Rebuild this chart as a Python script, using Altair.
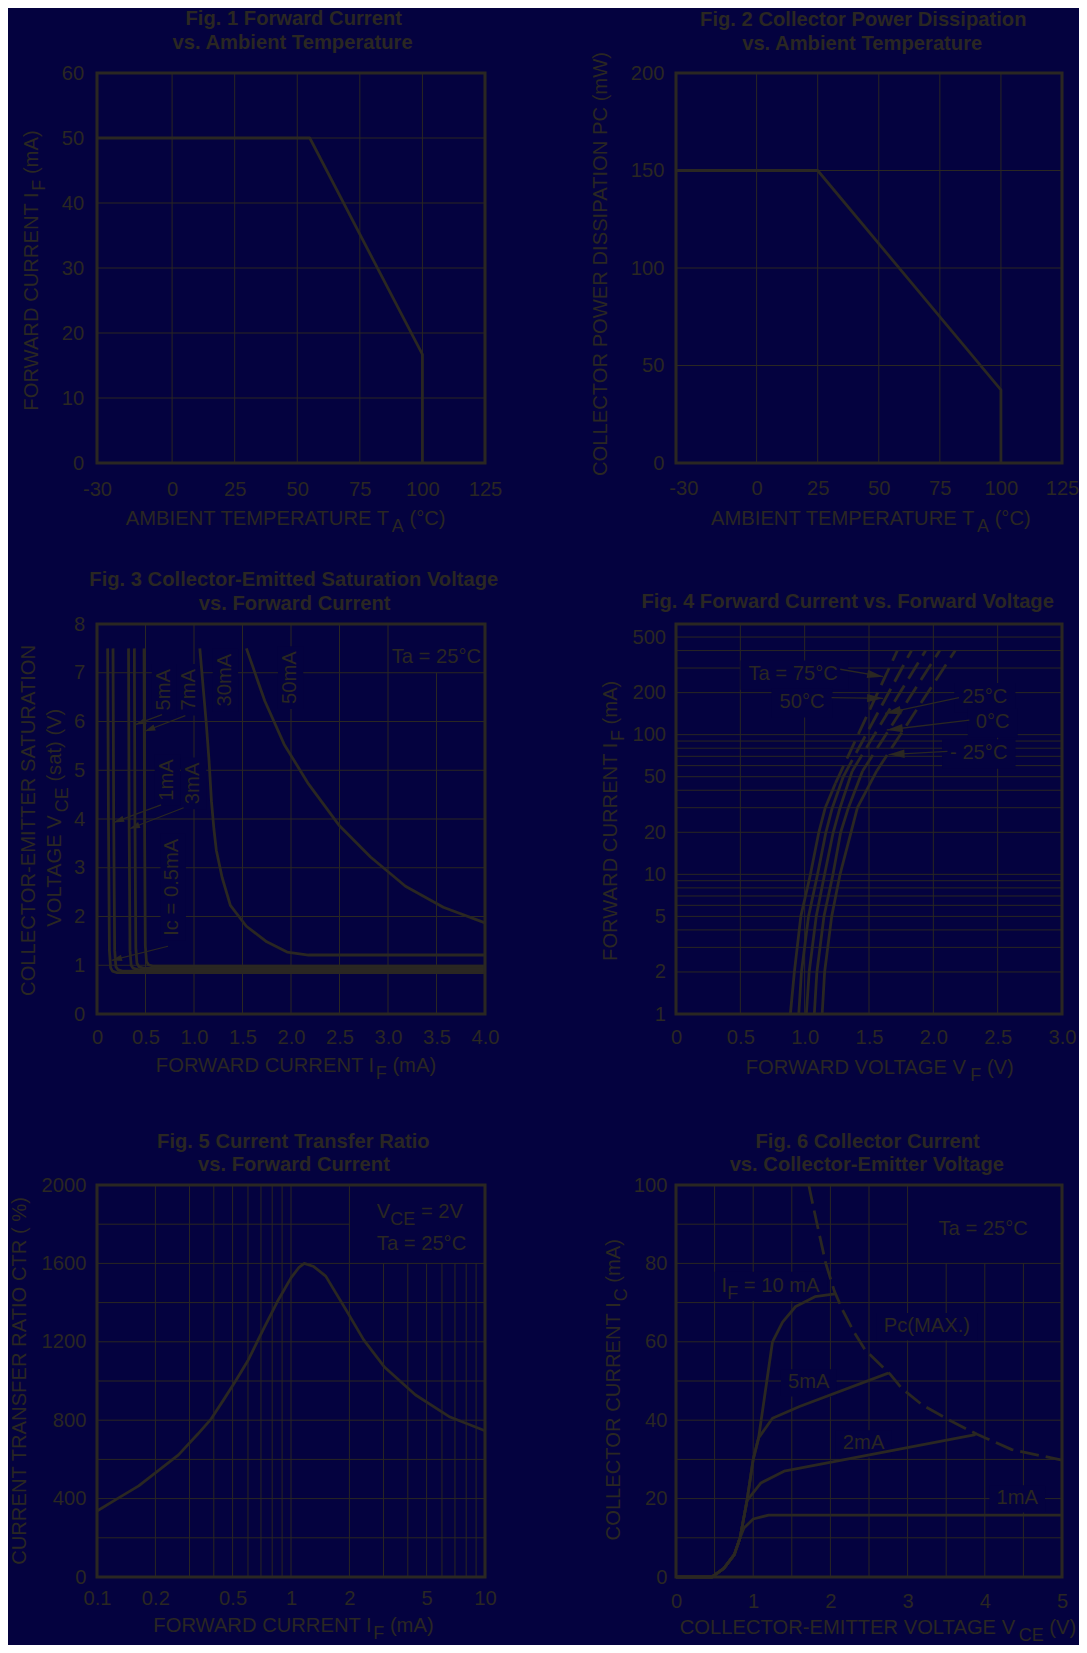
import math
import altair as alt
import pandas as pd

BG = "#04023f"
INK = "#2a2722"
FONT = "Liberation Sans"
FS = 20.2
SUB_FS = 18
SUB_DY = 7

# ---------------- Fig 1 ----------------
f1_temp = [-30, 55, 100, 100]
f1_if = [50, 50, 16.7, 0]
f1_xticks = [-30, 0, 25, 50, 75, 100, 125]
f1_yticks = [0, 10, 20, 30, 40, 50, 60]
f1_vgrid = [0, 25, 50, 75, 100]
f1_hgrid = [10, 20, 30, 40, 50]

# ---------------- Fig 2 ----------------
f2_temp = [-33, 25, 100, 100]
f2_pc = [150, 150, 37.5, 0]
f2_xticks = [-30, 0, 25, 50, 75, 100, 125]
f2_yticks = [0, 50, 100, 150, 200]
f2_vgrid = [0, 25, 50, 75, 100]
f2_hgrid = [50, 100, 150]

# ---------------- Fig 3 ----------------
f3_05_if = [0.110, 0.118, 0.128, 0.140, 0.160, 0.200, 4.0]
f3_05_v = [7.5, 4.0, 1.30, 0.95, 0.88, 0.85, 0.85]
f3_1_if = [0.165, 0.172, 0.182, 0.195, 0.215, 0.260, 4.0]
f3_1_v = [7.5, 4.0, 1.30, 0.97, 0.91, 0.88, 0.88]
f3_3_if = [0.325, 0.331, 0.340, 0.352, 0.372, 0.420, 4.0]
f3_3_v = [7.5, 4.0, 1.30, 1.00, 0.94, 0.91, 0.91]
f3_5_if = [0.385, 0.391, 0.400, 0.412, 0.432, 0.480, 4.0]
f3_5_v = [7.5, 4.0, 1.35, 1.04, 0.97, 0.94, 0.94]
f3_7_if = [0.485, 0.490, 0.498, 0.510, 0.530, 0.580, 4.0]
f3_7_v = [7.5, 4.0, 1.40, 1.08, 1.01, 0.98, 0.98]
f3_30_if = [1.06, 1.09, 1.125, 1.155, 1.18, 1.205, 1.23, 1.29, 1.375, 1.54, 1.75, 1.96, 2.18, 4.0]
f3_30_v = [7.5, 6.8, 6.0, 5.2, 4.36, 3.8, 3.36, 2.8, 2.23, 1.8, 1.48, 1.27, 1.21, 1.21]
f3_50_if = [1.54, 1.73, 1.93, 2.18, 2.5, 2.82, 3.18, 3.57, 4.0]
f3_50_v = [7.5, 6.42, 5.53, 4.72, 3.86, 3.22, 2.62, 2.19, 1.87]
f3_xticks = [0, 0.5, 1.0, 1.5, 2.0, 2.5, 3.0, 3.5, 4.0]
f3_yticks = [0, 1, 2, 3, 4, 5, 6, 7, 8]
f3_vgrid = [0.5, 1.0, 1.5, 2.0, 2.5, 3.0]
f3_vgrid_short = [3.5]
f3_hgrid = [1, 2, 3, 4, 5, 6, 7]
f3_rot_text = ["5mA", "7mA", "30mA", "50mA", "1mA", "3mA", "Ic = 0.5mA"]
f3_rot_x = [0.75, 1.007, 1.378, 2.05, 0.78, 1.05, 0.84]
f3_rot_y = [6.65, 6.65, 6.85, 6.9, 4.8, 4.73, 2.6]
f3_arr_x1 = [0.671, 0.911, 0.661, 0.893, 0.732]
f3_arr_y1 = [6.14, 6.12, 4.29, 4.23, 1.39]
f3_arr_x2 = [0.40, 0.493, 0.172, 0.335, 0.15]
f3_arr_y2 = [5.94, 5.80, 3.93, 3.80, 1.10]

# ---------------- Fig 4 ----------------
f4_75_vs = [0.889, 0.92, 0.97, 1.045, 1.11, 1.16, 1.24]
f4_75_is = [1, 2, 5, 10, 20, 30, 45]
f4_75_vd = [1.24, 1.72]
f4_75_id = [45, 400]
f4_50_vs = [0.954, 0.975, 1.03, 1.10, 1.165, 1.215, 1.30]
f4_50_is = [1, 2, 5, 10, 20, 30, 50]
f4_50_vd = [1.30, 1.83]
f4_50_id = [50, 400]
f4_25_vs = [1.013, 1.035, 1.09, 1.155, 1.222, 1.275, 1.37]
f4_25_is = [1, 2, 5, 10, 20, 30, 55]
f4_25_vd = [1.37, 1.94]
f4_25_id = [55, 400]
f4_0_vs = [1.075, 1.095, 1.15, 1.22, 1.28, 1.34, 1.45]
f4_0_is = [1, 2, 5, 10, 20, 30, 55]
f4_0_vd = [1.45, 2.05]
f4_0_id = [55, 400]
f4_m25_vs = [1.136, 1.155, 1.21, 1.275, 1.36, 1.41, 1.56]
f4_m25_is = [1, 2, 5, 10, 20, 30, 55]
f4_m25_vd = [1.56, 2.17]
f4_m25_id = [55, 400]
f4_xticks = [0, 0.5, 1.0, 1.5, 2.0, 2.5, 3.0]
f4_yticks = [1, 2, 5, 10, 20, 50, 100, 200, 500]
f4_vgrid = [0.5, 1.0, 1.5, 2.0, 2.5]
f4_hgrid = [2, 3, 4, 5, 6, 7, 8, 9, 10, 20, 30, 40, 50, 60, 70, 80, 90, 100, 200, 300, 400, 500]
f4_lab_text = ["Ta = 75°C", "50°C", "25°C", "0°C", "- 25°C"]
f4_lab_v = [0.563, 0.804, 2.225, 2.33, 2.13]
f4_lab_i = [245, 155, 169, 111, 66.7]
f4_arr_v1 = [1.276, 1.209, 2.20, 2.28, 2.11]
f4_arr_i1 = [294, 184, 184, 127, 76]
f4_arr_v2 = [1.61, 1.61, 1.625, 1.638, 1.652]
f4_arr_i2 = [260, 182, 142, 108, 72]

# ---------------- Fig 5 ----------------
f5_if = [0.1, 0.13, 0.164, 0.2, 0.263, 0.33, 0.388, 0.45, 0.518, 0.598, 0.72, 0.85,
         1.0, 1.1, 1.17, 1.31, 1.51, 1.93, 2.37, 3.04, 4.37, 6.6, 10]
f5_ctr = [337, 405, 465, 531, 623, 728, 807, 905, 1000, 1102, 1263, 1404,
          1526, 1580, 1600, 1584, 1535, 1360, 1210, 1070, 930, 816, 746]
f5_xticks = [0.1, 0.2, 0.5, 1, 2, 5, 10]
f5_yticks = [0, 400, 800, 1200, 1600, 2000]
f5_vgrid = [0.2, 0.3, 0.4, 0.5, 0.6, 0.7, 0.8, 0.9, 1, 2]
f5_vgrid_short = [3, 4, 5, 6, 7, 8, 9]
f5_hgrid = [200, 400, 600, 800, 1000, 1200, 1400, 1600]
f5_hgrid_short = [1800]

# ---------------- Fig 6 ----------------
f6_1_v = [0, 0.465, 0.62, 0.755, 0.83, 0.88, 1.0, 1.2, 5.0]
f6_1_i = [0, 0, 2.2, 5.7, 10, 12.5, 14.8, 15.8, 15.8]
f6_2_v = [0, 0.465, 0.62, 0.755, 0.83, 0.92, 1.1, 1.4, 3.88]
f6_2_i = [0, 0, 2.2, 5.7, 10, 19.5, 24, 27, 36.3]
f6_5_v = [0, 0.465, 0.62, 0.755, 0.83, 0.92, 1.0, 1.07, 1.25, 1.6, 2.75]
f6_5_i = [0, 0, 2.2, 5.7, 10, 19.5, 30, 35.5, 40.5, 43.5, 52]
f6_10_v = [0, 0.465, 0.62, 0.755, 0.83, 0.92, 1.0, 1.07, 1.25, 1.38, 1.55, 1.8, 2.06]
f6_10_i = [0, 0, 2.2, 5.7, 10, 19.5, 30, 35.5, 60, 65, 69, 71.5, 72.2]
f6_pc_v = [1.72, 1.74, 1.85, 1.94, 2.05, 2.16, 2.3, 2.45, 2.77, 2.92, 3.19, 3.55, 3.9, 4.35, 5.0]
f6_pc_i = [100, 98, 88, 80, 73, 68, 62.7, 57.9, 51.8, 48.2, 43.9, 39.9, 36.4, 32.5, 29.8]
f6_xticks = [0, 1, 2, 3, 4, 5]
f6_yticks = [0, 20, 40, 60, 80, 100]
f6_vgrid = [0.5, 1.0, 1.5, 2.0, 2.5, 3.0]
f6_vgrid_short = [3.5, 4.0, 4.5]
f6_hgrid = [10, 20, 30, 40, 50, 60, 70, 80]
f6_hgrid_short = [90]
f6_lab_text = ["Pc(MAX.)", "5mA", "2mA", "1mA"]
f6_lab_v = [3.25, 1.72, 2.43, 4.42]
f6_lab_i = [62.5, 48.2, 32.6, 18.6]

# ---------------- text metrics (Arial / Liberation Sans) ----------------
REG = {}
for ch, w in zip("ABCDEFGHIJKLMNOPQRSTUVWXYZ",
                 [667, 667, 722, 722, 667, 611, 778, 722, 278, 500, 667, 556, 833, 722, 778, 667, 778,
                  722, 667, 611, 722, 667, 944, 667, 667, 611]):
    REG[ch] = w
for ch, w in zip("abcdefghijklmnopqrstuvwxyz",
                 [556, 556, 500, 556, 556, 278, 556, 556, 222, 222, 500, 222, 833, 556, 556, 556, 556,
                  333, 500, 278, 556, 500, 722, 500, 500, 500]):
    REG[ch] = w
REG.update({" ": 278, "(": 333, ")": 333, "%": 889, "-": 333, ".": 278, "=": 584, "°": 400, ",": 278})
for d in "0123456789":
    REG[d] = 556
BOLD = {}
for ch, w in zip("ABCDEFGHIJKLMNOPQRSTUVWXYZ",
                 [722, 722, 722, 722, 667, 611, 778, 722, 278, 556, 722, 611, 833, 722, 778, 667, 778,
                  722, 667, 611, 722, 667, 944, 667, 667, 611]):
    BOLD[ch] = w
for ch, w in zip("abcdefghijklmnopqrstuvwxyz",
                 [556, 611, 556, 611, 556, 333, 611, 611, 278, 278, 556, 278, 889, 611, 611, 611, 611,
                  389, 556, 333, 611, 556, 778, 556, 556, 500]):
    BOLD[ch] = w
BOLD.update({" ": 278, "(": 333, ")": 333, "-": 333, ".": 278})
for d in "0123456789":
    BOLD[d] = 556


def tw(s, size, bold=False):
    tab = BOLD if bold else REG
    return sum(tab.get(c, 556) for c in s) * size / 1000.0


def one():
    return pd.DataFrame({"k": [0]})


def ax(**kw):
    return alt.Axis(title=None, **kw)


class P:
    """Holds the scales and the vertical offset of one panel."""

    def __init__(self, W, H, xs, ys, xa, ya, d=0):
        self.W, self.H, self.d = W, H, d
        self.xs, self.ys, self.xa, self.ya = xs, ys, xa, ya

    def X(self, f="x"):
        return alt.X(f + ":Q", scale=self.xs, axis=self.xa)

    def Y(self, f="y"):
        return alt.Y(f + ":Q", scale=self.ys, axis=self.ya)


def vrules(p, vals, y0=None, y1=None):
    if y0 is None:
        enc = dict(x=p.X())
        if p.d:
            enc.update(y=alt.value(p.d), y2=alt.value(p.H + p.d))
        return alt.Chart(pd.DataFrame({"x": vals})).mark_rule(color=INK, strokeWidth=1).encode(**enc)
    df = pd.DataFrame({"x": vals, "y": [y0] * len(vals), "y2": [y1] * len(vals)})
    return alt.Chart(df).mark_rule(color=INK, strokeWidth=1).encode(x=p.X(), y=p.Y(), y2=alt.Y2("y2"))


def hrules(p, vals, x0=None, x1=None):
    if x0 is None:
        return alt.Chart(pd.DataFrame({"y": vals})).mark_rule(color=INK, strokeWidth=1).encode(y=p.Y())
    df = pd.DataFrame({"y": vals, "x": [x0] * len(vals), "x2": [x1] * len(vals)})
    return alt.Chart(df).mark_rule(color=INK, strokeWidth=1).encode(y=p.Y(), x=p.X(), x2=alt.X2("x2"))


def curves(p, series, dash=None, sw=2.8):
    rows = []
    for name, xv, yv in series:
        for i, (a, b) in enumerate(zip(xv, yv)):
            rows.append({"s": name, "i": i, "x": a, "y": b})
    kw = dict(color=INK, strokeWidth=sw, strokeJoin="round")
    if dash:
        kw["strokeDash"] = dash
    return alt.Chart(pd.DataFrame(rows)).mark_line(**kw).encode(
        x=p.X(), y=p.Y(), detail="s:N", order=alt.Order("i:Q"))


def labels(p, xv, yv, texts, align="left", angle=0):
    df = pd.DataFrame({"x": xv, "y": yv, "t": texts})
    return alt.Chart(df).mark_text(align=align, baseline="alphabetic", angle=angle, font=FONT,
                                   fontSize=FS, color=INK).encode(x=p.X(), y=p.Y(), text="t:N")


def ko_path(text, align, angle, mx=6, my=4):
    w = tw(text, FS)
    if align == "left":
        x1, x2 = -mx, w + mx
    elif align == "center":
        x1, x2 = -w / 2 - mx, w / 2 + mx
    else:
        x1, x2 = -w - mx, mx
    y1, y2 = -0.74 * FS - my, 0.22 * FS + my
    if angle == 270:
        sx1, sx2, sy1, sy2 = y1, y2, -x2, -x1
    else:
        sx1, sx2, sy1, sy2 = x1, x2, y1, y2
    return "M%.1f,%.1fH%.1fV%.1fH%.1fZ" % (sx1, sy1, sx2, sy2, sx1)


def knock(p, xv, yv, texts, align, angle=0, mx=6, my=4):
    df = pd.DataFrame({"x": xv, "y": yv, "p": [ko_path(t, align, angle, mx, my) for t in texts]})
    return alt.Chart(df).mark_point(filled=True, size=4, opacity=1, color=BG, strokeWidth=0).encode(
        x=p.X(), y=p.Y(), shape=alt.Shape("p:N", scale=None))


def arrows(p, x1, y1, x2, y2, pxf, pyf, head, sw=1.2):
    angs = []
    for a, b, c, e in zip(x1, y1, x2, y2):
        angs.append(math.degrees(math.atan2(pyf(e) - pyf(b), pxf(c) - pxf(a))) % 360)
    df = pd.DataFrame({"x": x1, "y": y1, "x2": x2, "y2": y2, "a": angs, "h": [head] * len(x1)})
    ln = alt.Chart(df).mark_rule(color=INK, strokeWidth=sw).encode(
        x=p.X(), y=p.Y(), x2=alt.X2("x2"), y2=alt.Y2("y2"))
    hd = alt.Chart(df).mark_point(filled=True, size=4, opacity=1, color=INK, strokeWidth=0).encode(
        x=p.X("x2"), y=p.Y("y2"), shape=alt.Shape("h:N", scale=None), angle=alt.Angle("a:Q", scale=None))
    return [ln, hd]


def rich(segs, enc, df, align="center", angle=0, bold=False, size=FS, sub_size=SUB_FS):
    widths = [tw(t, sub_size if s else size, bold) for t, s in segs]
    total = sum(widths)
    off = {"left": 0.0, "center": -total / 2.0, "right": -total}[align]
    out = []
    for (t, s), w in zip(segs, widths):
        fs = sub_size if s else size
        lead = len(t) - len(t.lstrip(" "))
        body = t.strip(" ")
        dx = off + tw(" " * lead, fs, bold)
        out.append(alt.Chart(df).mark_text(
            text=body, align="left", baseline="alphabetic", dx=dx, dy=SUB_DY if s else 0,
            angle=angle, font=FONT, fontSize=fs, fontWeight="bold" if bold else "normal",
            color=INK).encode(**enc))
        off += w
    return out


def rich_px(p, segs, x, y, **kw):
    return rich(segs, dict(x=alt.value(x), y=alt.value(y + p.d)), one(), **kw)


def rich_dt(p, segs, xv, yv, **kw):
    return rich(segs, dict(x=p.X(), y=p.Y()), pd.DataFrame({"x": [xv], "y": [yv]}), **kw)


def title(p, lines, cx, bys):
    out = []
    for line, by in zip(lines, bys):
        out += rich_px(p, [(line, False)], cx, by, bold=True)
    return out


def frame(p):
    return alt.Chart(one()).mark_rect(filled=False, color=INK, strokeWidth=3.1).encode(
        x=alt.value(0), x2=alt.value(p.W), y=alt.value(p.d), y2=alt.value(p.H + p.d))


def lin(domain, H=None, d=0):
    if H is None:
        return alt.Scale(domain=domain, nice=False, zero=False)
    return alt.Scale(domain=domain, nice=False, zero=False, range=[H + d, d])


NEG = "datum.value < 0 ? '-' + format(-datum.value, 'd') : datum.label"
DEC = "datum.value == 0 ? '0' : format(datum.value, '.1f')"

# ---------------- layout ----------------
W1, W2 = 388, 386
H12, H3 = 390, 392
D3 = 10


def panel1():
    p = P(W1, H12, lin([-30, 125]), lin([0, 60]),
          ax(values=f1_xticks, labelExpr=NEG, labelPadding=16.8),
          ax(values=f1_yticks, labelPadding=13.2))
    L = [vrules(p, f1_vgrid), hrules(p, f1_hgrid), curves(p, [("a", f1_temp, f1_if)]), frame(p)]
    L += title(p, ["Fig. 1 Forward Current", "vs. Ambient Temperature"], 196.8, [-48.3, -24.4])
    L += rich_px(p, [("AMBIENT TEMPERATURE T", False), ("A", True), (" (°C)", False)], 188.7, p.H + 61.6)
    L += rich_px(p, [("FORWARD CURRENT I", False), ("F", True), (" (mA)", False)], -58.9, 197.5, angle=270)
    return alt.layer(*L).properties(width=p.W, height=p.H)


def panel2():
    p = P(W2, H12, lin([-33, 125]), lin([0, 200]),
          ax(values=f2_xticks, labelExpr=NEG, labelPadding=15.2),
          ax(values=f2_yticks, labelPadding=12.1))
    L = [vrules(p, f2_vgrid), hrules(p, f2_hgrid), curves(p, [("a", f2_temp, f2_pc)]), frame(p)]
    L += title(p, ["Fig. 2 Collector Power Dissipation", "vs. Ambient Temperature"], 187.4, [-47.2, -22.9])
    L += rich_px(p, [("AMBIENT TEMPERATURE T", False), ("A", True), (" (°C)", False)], 194.9, p.H + 61.8)
    L += rich_px(p, [("COLLECTOR POWER DISSIPATION PC (mW)", False)], -69.4, 189.2, angle=270)
    return alt.layer(*L).properties(width=p.W, height=p.H)


def panel3():
    xd, yd = [0, 4], [0, 8]
    p = P(W1, H12, lin(xd), lin(yd),
          ax(values=f3_xticks, labelExpr=DEC, labelPadding=13),
          ax(values=f3_yticks, labelPadding=12.2))
    pxf = lambda v: (v - xd[0]) / (xd[1] - xd[0]) * p.W
    pyf = lambda v: p.H - (v - yd[0]) / (yd[1] - yd[0]) * p.H
    L = [vrules(p, f3_vgrid), vrules(p, f3_vgrid_short, 0, 7), hrules(p, f3_hgrid),
         knock(p, f3_rot_x, f3_rot_y, f3_rot_text, "center", 270, mx=5, my=3),
         curves(p, [("0.5", f3_05_if, f3_05_v), ("1", f3_1_if, f3_1_v), ("3", f3_3_if, f3_3_v),
                    ("5", f3_5_if, f3_5_v), ("7", f3_7_if, f3_7_v), ("30", f3_30_if, f3_30_v),
                    ("50", f3_50_if, f3_50_v)])]
    L += arrows(p, f3_arr_x1, f3_arr_y1, f3_arr_x2, f3_arr_y2, pxf, pyf, "M0,0L-10.5,-3.2L-10.5,3.2Z")
    L.append(labels(p, f3_rot_x, f3_rot_y, f3_rot_text, align="center", angle=270))
    L.append(labels(p, [3.96], [7.2], ["Ta = 25°C"], align="right"))
    L.append(frame(p))
    L += title(p, ["Fig. 3 Collector-Emitted Saturation Voltage", "vs. Forward Current"], 197.7, [-38.1, -13.9])
    L += rich_px(p, [("FORWARD CURRENT I", False), ("F", True), (" (mA)", False)], 199, p.H + 57.8)
    L += rich_px(p, [("COLLECTOR-EMITTER SATURATION", False)], -62.4, 194.6, angle=270)
    L += rich_px(p, [("VOLTAGE V", False), ("CE", True), (" (sat) (V)", False)], -36.4, 193.7, angle=270)
    return alt.layer(*L).properties(width=p.W, height=p.H)


def panel4():
    xd, yd = [0, 3], [1, 620]
    p = P(W2, H12, lin(xd), alt.Scale(type="log", domain=yd, nice=False),
          ax(values=f4_xticks, labelExpr=DEC, labelPadding=13),
          ax(values=f4_yticks, format="d", labelPadding=10.4))
    pxf = lambda v: (v - xd[0]) / (xd[1] - xd[0]) * p.W
    pyf = lambda v: p.H - (math.log10(v) - math.log10(yd[0])) / (math.log10(yd[1]) - math.log10(yd[0])) * p.H
    L = [vrules(p, f4_vgrid), hrules(p, f4_hgrid),
         knock(p, f4_lab_v, f4_lab_i, f4_lab_text, "left", 0, mx=8, my=5),
         curves(p, [("75", f4_75_vs, f4_75_is), ("50", f4_50_vs, f4_50_is), ("25", f4_25_vs, f4_25_is),
                    ("0", f4_0_vs, f4_0_is), ("-25", f4_m25_vs, f4_m25_is)]),
         curves(p, [("75", f4_75_vd, f4_75_id), ("50", f4_50_vd, f4_50_id), ("25", f4_25_vd, f4_25_id),
                    ("0", f4_0_vd, f4_0_id), ("-25", f4_m25_vd, f4_m25_id)], dash=[19, 8])]
    L += arrows(p, f4_arr_v1, f4_arr_i1, f4_arr_v2, f4_arr_i2, pxf, pyf, "M0,0L-16,-4.2L-16,4.2Z", sw=1.3)
    L.append(labels(p, f4_lab_v, f4_lab_i, f4_lab_text, align="left"))
    L.append(frame(p))
    L += title(p, ["Fig. 4 Forward Current vs. Forward Voltage"], 172.6, [-15.9])
    L += rich_px(p, [("FORWARD VOLTAGE V", False), ("F", True), (" (V)", False)], 203.8, p.H + 59.7)
    L += rich_px(p, [("FORWARD CURRENT I", False), ("F", True), (" (mA)", False)], -59, 196.8, angle=270)
    return alt.layer(*L).properties(width=p.W, height=p.H)


def panel5():
    p = P(W1, H3, alt.Scale(type="log", domain=[0.1, 10], nice=False), lin([0, 2000], H3, D3),
          ax(values=f5_xticks, labelExpr="format(datum.value, '~g')", labelPadding=11.6),
          ax(values=f5_yticks, format="d", labelPadding=11.1), d=D3)
    L = [vrules(p, f5_vgrid), vrules(p, f5_vgrid_short, 0, 1600),
         hrules(p, f5_hgrid), hrules(p, f5_hgrid_short, 0.1, 2),
         curves(p, [("ctr", f5_if, f5_ctr)]), frame(p)]
    L += rich_dt(p, [("V", False), ("CE", True), (" = 2V", False)], 2.77, 1833, align="left")
    L.append(labels(p, [2.77], [1670], ["Ta = 25°C"], align="left"))
    L += title(p, ["Fig. 5 Current Transfer Ratio", "vs. Forward Current"], 197, [-37.4, -13.9])
    L += rich_px(p, [("FORWARD CURRENT I", False), ("F", True), (" (mA)", False)], 196.5, p.H + 55)
    L += rich_px(p, [("CURRENT TRANSFER RATIO CTR ( %)", False)], -71, 194.7, angle=270)
    return alt.layer(*L).properties(width=p.W, height=p.H + p.d)


def panel6():
    p = P(W2, H3, lin([0, 5]), lin([0, 100], H3, D3),
          ax(values=f6_xticks, labelPadding=14.2),
          ax(values=f6_yticks, labelPadding=9), d=D3)
    L = [vrules(p, f6_vgrid), vrules(p, f6_vgrid_short, 0, 80),
         hrules(p, f6_hgrid), hrules(p, f6_hgrid_short, 0, 3),
         knock(p, f6_lab_v, f6_lab_i, f6_lab_text, "center", 0, mx=7, my=4),
         knock(p, [0.59], [72.8], ["IF = 10 mA"], "left", 0, mx=7, my=5),
         curves(p, [("1", f6_1_v, f6_1_i), ("2", f6_2_v, f6_2_i), ("5", f6_5_v, f6_5_i),
                    ("10", f6_10_v, f6_10_i)]),
         curves(p, [("pc", f6_pc_v, f6_pc_i)], dash=[19, 7]),
         labels(p, f6_lab_v, f6_lab_i, f6_lab_text, align="center"),
         labels(p, [3.40], [87.3], ["Ta = 25°C"], align="left")]
    L += rich_dt(p, [("I", False), ("F", True), (" = 10 mA", False)], 0.59, 72.8, align="left")
    L.append(frame(p))
    L += title(p, ["Fig. 6 Collector Current", "vs. Collector-Emitter Voltage"], 191.7, [-37.5, -14])
    L += rich_px(p, [("COLLECTOR-EMITTER VOLTAGE V", False), ("CE", True), (" (V)", False)], 202, p.H + 57)
    L += rich_px(p, [("COLLECTOR CURRENT I", False), ("C", True), (" (mA)", False)], -55.9, 204.7, angle=270)
    return alt.layer(*L).properties(width=p.W, height=p.H + p.d)


chart = alt.concat(
    panel1(), panel2(), panel3(), panel4(), panel5(), panel6(),
    columns=2, spacing={"row": 161, "column": 191}, bounds="flush", align="each"
).properties(
    background=BG,
    autosize=alt.AutoSizeParams(type="none"),
    padding={"left": 89, "top": 65, "right": 982, "bottom": 1572},
).configure_view(stroke=None).configure_axis(
    grid=False, ticks=False, tickSize=0, domain=False, labelFont=FONT, labelFontSize=FS,
    labelColor=INK, labelFlush=False, labelOverlap=False
)

chart.save("out.html", embed_options={"renderer": "svg", "actions": False})
